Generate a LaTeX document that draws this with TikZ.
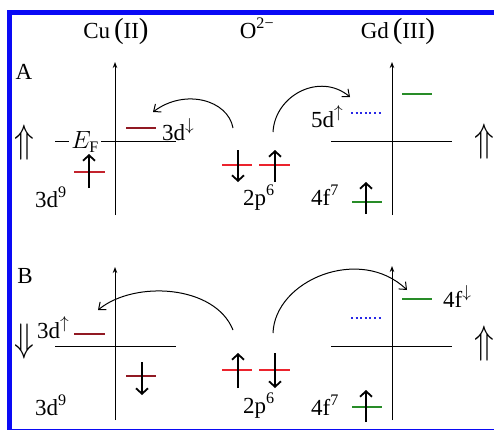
\documentclass[tikz,border=0pt]{standalone}
\usepackage{fontspec}
\setmainfont{Liberation Serif}
\usepackage{graphicx}
\usetikzlibrary{arrows.meta}
\definecolor{cuempty}{RGB}{145,25,35}
\definecolor{cufull}{RGB}{195,35,45}
\definecolor{ored}{RGB}{235,35,45}
\definecolor{gdgreen}{RGB}{40,140,40}
\definecolor{frameblue}{RGB}{10,10,245}
\definecolor{dotblue}{RGB}{40,40,230}
\begin{document}
\begin{tikzpicture}[x=1pt,y=-1pt,
  lbl/.style={inner sep=0pt, font=\fontsize{23}{26}\selectfont},
  axisv/.style={line width=1pt, -{Stealth[length=6pt,width=4.5pt]}},
  axish/.style={line width=1pt},
  lvlcu/.style={line width=2.7pt, cuempty},
  lvlcuf/.style={line width=2.7pt, cufull},
  lvlo/.style={line width=2.7pt, ored},
  lvlgd/.style={line width=2.7pt, gdgreen},
  lvlempty/.style={line width=2.2pt, dotblue, dash pattern=on 2pt off 2.6pt},
  spin/.style={line width=1.8pt, -{Straight Barb[length=5.5pt,width=12pt]}},
  hop/.style={line width=1pt, -{Straight Barb[length=6pt,width=10pt]}},
  bigarr/.style={inner sep=0pt},
]
\clip (0,0) rectangle (494,429);
\fill[white] (0,0) rectangle (494,429);
% frame
\draw[frameblue, line width=5pt] (9.5,12.5) -- (500,12.5);
\draw[frameblue, line width=5pt] (9.5,10) -- (9.5,435);
\draw[frameblue, line width=5pt] (7,431) -- (500,431);

\newcommand{\bigpar}[1]{{\fontsize{29}{29}\selectfont #1}}
% titles
\node[lbl, anchor=base] (tcu) at (116,38) {Cu\,\bigpar{(}II\bigpar{)}};
\node[lbl, anchor=base] (to) at (257,38) {O\textsuperscript{2−}};
\node[lbl, anchor=base] (tgd) at (398,38) {Gd\,\bigpar{(}III\bigpar{)}};
\node[lbl] (la) at (24,72) {A};
\node[lbl] (lb) at (25,276) {B};

% ===== Panel A =====
\draw[axisv] (115,215) -- (115,62);
\draw[axish] (55,141) -- (176,141);
\node[lbl, fill=white, inner sep=2pt] (efa) at (85,142) {$E_{\mathrm{F}}$};
\draw[axisv] (392,215) -- (392,62);
\draw[axish] (331,141) -- (452,141);

\draw[lvlcu] (126,128) -- (156,128);
\draw[lvlcuf] (74,172) -- (105,172);
\draw[lvlo] (222,165) -- (252,165);
\draw[lvlo] (259,165) -- (290,165);
\draw[lvlgd] (402,94) -- (432,94);
\draw[lvlempty] (351,113) -- (382,113);
\draw[lvlgd] (352,202) -- (382,202);

\coordinate (sa1s) at (89,188); \coordinate (sa1e) at (89,154);
\coordinate (sa2s) at (238,150); \coordinate (sa2e) at (238,182);
\coordinate (sa3s) at (275,182); \coordinate (sa3e) at (275,150);
\coordinate (sa4s) at (366,214); \coordinate (sa4e) at (366,182);
\draw[spin] (sa1s) -- (sa1e);
\draw[spin] (sa2s) -- (sa2e);
\draw[spin] (sa3s) -- (sa3e);
\draw[spin] (sa4s) -- (sa4e);

\node[lbl, anchor=base west] (a3dd) at (162,140) {3d$^{\downarrow}$};
\node[lbl, anchor=base west] (a3d9) at (35,207) {3d\textsuperscript{9}};
\node[lbl, anchor=base west] (a2p6) at (243,205) {2p\textsuperscript{6}};
\node[lbl, anchor=base west] (a5d) at (311,127) {5d$^{\uparrow}$};
\node[lbl, anchor=base west] (a4f7) at (311,205) {4f\textsuperscript{7}};
\node[bigarr] (aul) at (24,143) {\scalebox{1.3}[1.6]{\fontsize{23}{26}\selectfont$\Uparrow$}};
\node[bigarr] (aur) at (484,142) {\scalebox{1.3}[1.6]{\fontsize{23}{26}\selectfont$\Uparrow$}};

\coordinate (ha1s) at (233,128); \coordinate (ha1e) at (153,112);
\coordinate (ha2s) at (273,132); \coordinate (ha2e) at (350,97);
\draw[hop] (ha1s) .. controls (228,100) and (185,88) .. (ha1e);
\draw[hop] (ha2s) .. controls (275,95) and (320,72) .. (ha2e);

% ===== Panel B =====
\draw[axisv] (115,420) -- (115,267);
\draw[axish] (55,346) -- (176,346);
\draw[axisv] (392,420) -- (392,266);
\draw[axish] (331,346) -- (452,346);

\draw[lvlcu] (74,334) -- (105,334);
\draw[lvlcu] (126,376) -- (156,376);
\draw[lvlo] (222,370) -- (252,370);
\draw[lvlo] (259,370) -- (290,370);
\draw[lvlgd] (402,299) -- (432,299);
\draw[lvlempty] (351,318) -- (382,318);
\draw[lvlgd] (352,407) -- (382,407);

\coordinate (sb1s) at (142,362); \coordinate (sb1e) at (142,395);
\coordinate (sb2s) at (238,388); \coordinate (sb2e) at (238,353);
\coordinate (sb3s) at (275,353); \coordinate (sb3e) at (275,388);
\coordinate (sb4s) at (366,422); \coordinate (sb4e) at (366,390);
\draw[spin] (sb1s) -- (sb1e);
\draw[spin] (sb2s) -- (sb2e);
\draw[spin] (sb3s) -- (sb3e);
\draw[spin] (sb4s) -- (sb4e);

\node[lbl, anchor=base west] (b3du) at (37,338) {3d$^{\uparrow}$};
\node[lbl, anchor=base west] (b3d9) at (35,415) {3d\textsuperscript{9}};
\node[lbl, anchor=base west] (b2p6) at (243,413) {2p\textsuperscript{6}};
\node[lbl, anchor=base west] (b4fd) at (443,307) {4f$^{\downarrow}$};
\node[lbl, anchor=base west] (b4f7) at (311,415) {4f\textsuperscript{7}};
\node[bigarr] (bdl) at (24,342) {\scalebox{1.3}[1.6]{\fontsize{23}{26}\selectfont$\Downarrow$}};
\node[bigarr] (bur) at (484,344) {\scalebox{1.3}[1.6]{\fontsize{23}{26}\selectfont$\Uparrow$}};

\coordinate (hb1s) at (233,330); \coordinate (hb1e) at (98,310);
\coordinate (hb2s) at (273,333); \coordinate (hb2e) at (407,290);
\draw[hop] (hb1s) .. controls (215,285) and (135,280) .. (hb1e);
\draw[hop] (hb2s) .. controls (275,280) and (360,245) .. (hb2e);
\end{tikzpicture}
\end{document}
